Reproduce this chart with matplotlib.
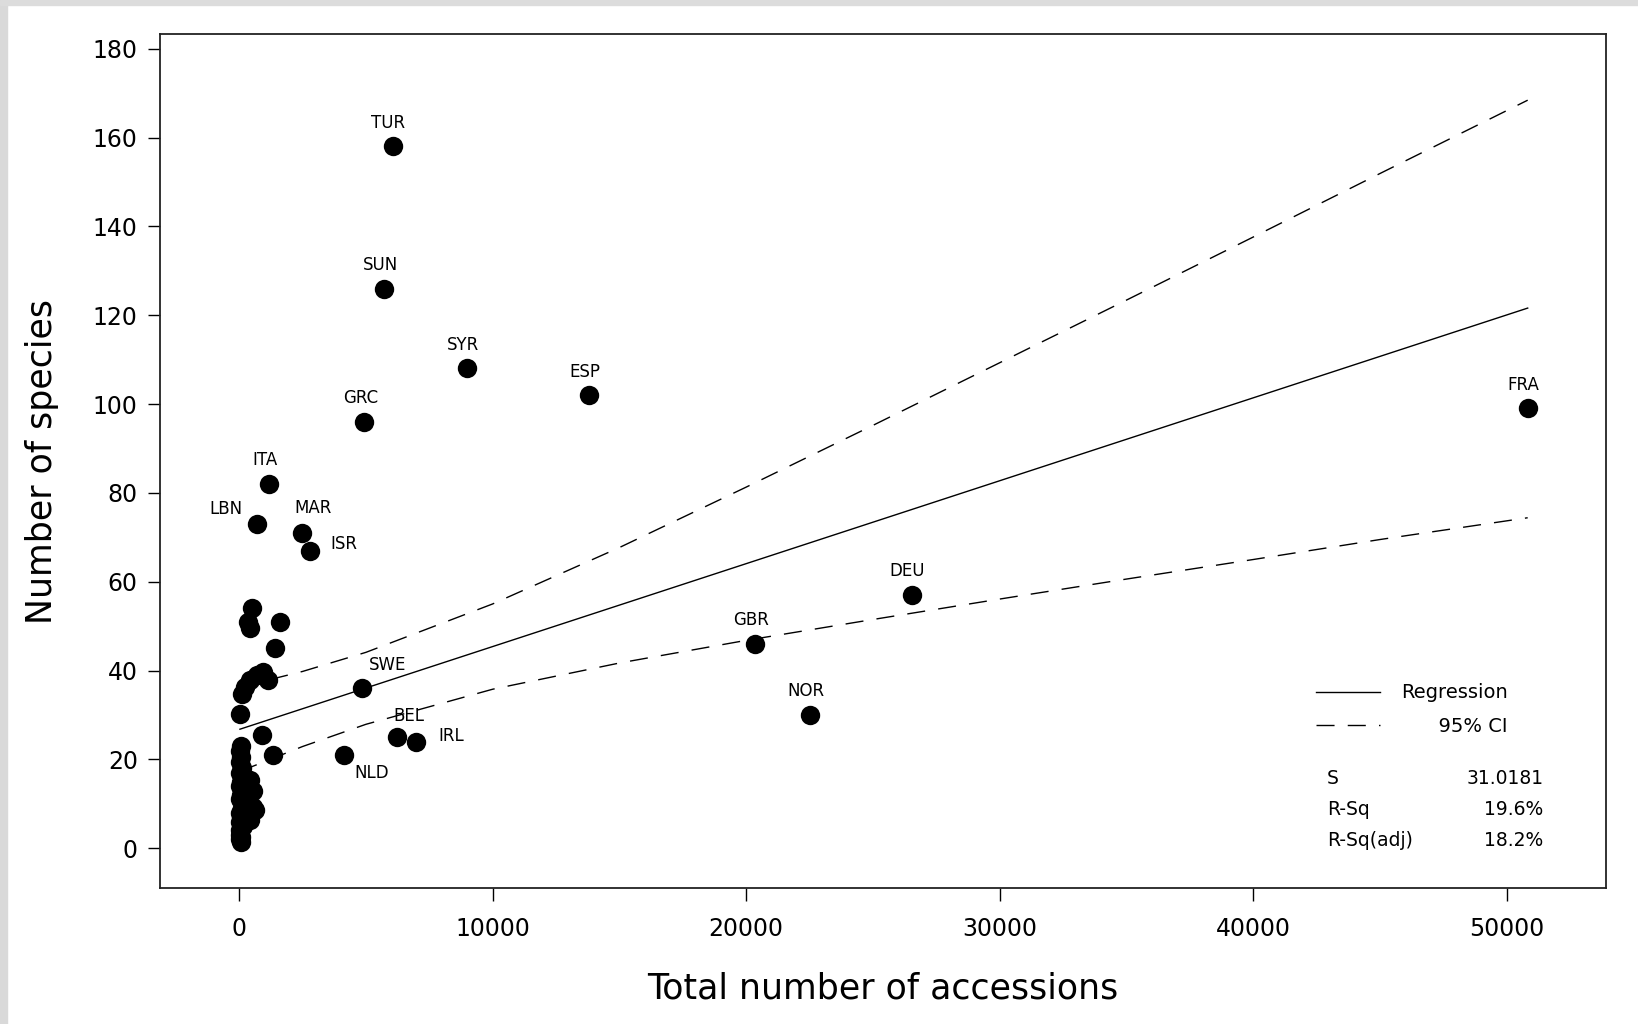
import matplotlib
matplotlib.use("Agg")
import matplotlib.pyplot as plt
from matplotlib.patches import Rectangle

# Labelled countries: total accessions, number of species
countries = ["TUR", "SUN", "SYR", "ESP", "GRC", "FRA", "ITA", "LBN", "MAR",
             "ISR", "DEU", "GBR", "NOR", "SWE", "BEL", "IRL", "NLD"]
acc_lab = [6054, 5725, 8979, 13797, 4942, 50824, 1194, 700, 2471,
           2800, 26524, 20346, 22529, 4860, 6219, 6960, 4119]
spp_lab = [158, 126, 108, 102, 96, 99, 82, 73, 71,
           67, 57, 46, 30, 36, 25, 24, 21]

# Unlabelled countries (crowded near zero)
acc_other = [492, 360, 426, 1608, 1411, 951, 690, 1148, 426, 229, 98, 32, 887, 1345,
             60, 40, 80, 30, 120, 50, 426, 90, 20, 150, 556, 60, 30, 200, 556, 623,
             100, 40, 426, 70, 20, 150, 50, 30, 90, 60, 20]
spp_other = [54, 51, 49.5, 51, 45, 39.7, 39, 37.8, 37.8, 36.3, 34.8, 30.3, 25.5, 21,
             23, 22, 20.5, 19.5, 18, 17, 15.3, 15, 14, 13, 13, 12, 11, 10.5, 9.3, 8.6,
             9, 8, 6.4, 7, 6, 5, 4, 3, 2.5, 1.5, 2]

# Fitted line and 95% CI
fit_x = [32, 50824]
fit_y = [26.8, 121.6]
ci_x = [32, 2500, 5000, 10000, 15000, 20000, 25000, 30000, 35000, 40000, 45000, 50824]
ci_upper = [36.3, 39.8, 44.1, 55.0, 67.7, 81.3, 95.2, 109.3, 123.4, 137.6, 151.9, 168.4]
ci_lower = [17.3, 22.9, 27.9, 35.8, 41.7, 46.8, 51.5, 56.1, 60.6, 65.0, 69.5, 74.4]

stat_names = ["S", "R-Sq", "R-Sq(adj)"]
stat_values = ["31.0181", "19.6%", "18.2%"]

# label offsets in points (dx, dy)
label_offsets = {
    "LBN": (-22, 11), "MAR": (8, 18), "ISR": (24, 5), "SWE": (18, 17),
    "BEL": (9, 15), "IRL": (26, 4), "NLD": (20, -13),
}

plt.rcParams["font.family"] = "DejaVu Sans"

fig = plt.figure(figsize=(16.38, 10.24), dpi=100)
ax = fig.add_axes([0.0977, 0.1328, 0.8828, 0.834])

# grey textured border of the screenshot (left and top)
fig.patches.append(Rectangle((0, 0), 7 / 1638, 1, transform=fig.transFigure,
                             color="#d9d9d9", zorder=0))
fig.patches.append(Rectangle((0, 1 - 5 / 1024), 1, 5 / 1024, transform=fig.transFigure,
                             color="#dcdcdc", zorder=0))

ax.scatter(acc_other, spp_other, s=195, color="black", zorder=3, linewidths=0)
ax.scatter(acc_lab, spp_lab, s=195, color="black", zorder=3, linewidths=0)

reg_line, = ax.plot(fit_x, fit_y, color="black", lw=1.0, zorder=2)
ci_line, = ax.plot(ci_x, ci_upper, color="black", lw=1.0,
                   dashes=(13, 9.5), zorder=2)
ax.plot(ci_x, ci_lower, color="black", lw=1.0, dashes=(13, 9.5), zorder=2)

for name, xv, yv in zip(countries, acc_lab, spp_lab):
    dx, dy = label_offsets.get(name, (-3, 17))
    ax.annotate(name, (xv, yv), xytext=(dx, dy), textcoords="offset points",
                ha="center", va="center", fontsize=12)

ax.legend([reg_line, ci_line], ["Regression", "      95% CI"],
          loc="upper left", bbox_to_anchor=(0.787, 0.26), frameon=False,
          fontsize=14, handlelength=3.3, handletextpad=1.1, labelspacing=0.75)

for i, (nm, val) in enumerate(zip(stat_names, stat_values)):
    yy = 0.1285 - i * 0.0367
    ax.text(0.8068, yy, nm, transform=ax.transAxes, fontsize=13.5,
            ha="left", va="center")
    ax.text(0.9566, yy, val, transform=ax.transAxes, fontsize=13.5,
            ha="right", va="center")

ax.set_xlim(-3120, 53915)
ax.set_ylim(-8.95, 183.3)
ax.set_xticks([0, 10000, 20000, 30000, 40000, 50000])
ax.set_yticks(range(0, 181, 20))

ax.set_xlabel("Total number of accessions", fontsize=25, labelpad=22)
ax.set_ylabel("Number of species", fontsize=25, labelpad=24)

for sp in ax.spines.values():
    sp.set_linewidth(1.3)
    sp.set_color("#222222")
ax.tick_params(axis="both", direction="out", length=9, width=1.0,
               labelsize=17, pad=7, colors="black")
ax.tick_params(axis="x", pad=12)

fig.savefig("out.png", dpi=100)
